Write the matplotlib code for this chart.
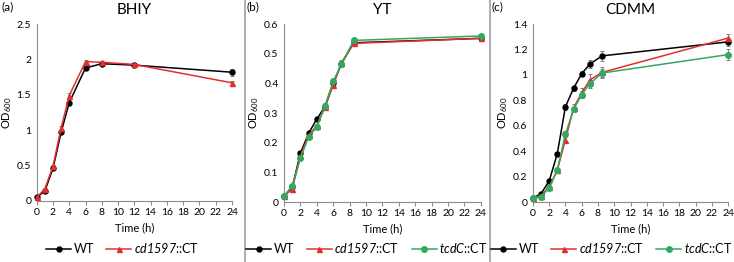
import matplotlib
matplotlib.use('Agg')
import matplotlib.pyplot as plt
from matplotlib.lines import Line2D

plt.rcParams['font.family'] = ['Lato', 'DejaVu Sans']
plt.rcParams['mathtext.fontset'] = 'custom'
plt.rcParams['mathtext.rm'] = 'Lato'
plt.rcParams['mathtext.it'] = 'Lato:italic'
# bf slot used for italic gene names so digits stay italic too
plt.rcParams['mathtext.bf'] = 'Lato:italic'

# panel (a) BHIY
t_a = [0, 1, 2, 3, 4, 6, 8, 12, 24]
wt_a = [0.05, 0.14, 0.46, 0.97, 1.39, 1.88, 1.94, 1.92, 1.82]
wt_a_err = [0.01, 0.01, 0.02, 0.03, 0.03, 0.02, 0.02, 0.02, 0.05]
cd_a = [0.05, 0.17, 0.49, 1.03, 1.49, 1.97, 1.96, 1.93, 1.67]
cd_a_err = [0.01, 0.01, 0.02, 0.03, 0.03, 0.02, 0.02, 0.02, 0.03]

# panel (b) YT
t_b = [0, 1, 2, 3, 4, 5, 6, 7, 8.5, 24]
wt_b = [0.02, 0.05, 0.165, 0.232, 0.28, 0.322, 0.40, 0.466, 0.537, 0.552]
cd_b = [0.02, 0.045, 0.155, 0.225, 0.258, 0.32, 0.395, 0.47, 0.535, 0.552]
tc_b = [0.02, 0.055, 0.148, 0.22, 0.254, 0.325, 0.407, 0.464, 0.545, 0.56]
err_b = [0.003, 0.004, 0.006, 0.006, 0.006, 0.008, 0.008, 0.008, 0.006, 0.006]

# panel (c) CDMM
t_c = [0, 1, 2, 3, 4, 5, 6, 7, 8.5, 24]
wt_c = [0.03, 0.065, 0.165, 0.38, 0.75, 0.895, 1.01, 1.085, 1.15, 1.26]
wt_c_err = [0.005, 0.01, 0.01, 0.015, 0.025, 0.02, 0.02, 0.03, 0.04, 0.03]
cd_c = [0.03, 0.05, 0.12, 0.25, 0.49, 0.74, 0.86, 0.96, 1.02, 1.29]
cd_c_err = [0.005, 0.01, 0.01, 0.015, 0.02, 0.03, 0.04, 0.045, 0.045, 0.03]
tc_c = [0.03, 0.04, 0.11, 0.25, 0.535, 0.73, 0.845, 0.93, 1.015, 1.16]
tc_c_err = [0.005, 0.01, 0.01, 0.015, 0.02, 0.02, 0.03, 0.03, 0.03, 0.045]

BLACK = '#000000'
RED = '#e0302e'
GREEN = '#35a860'
ERRC = '#808080'

fig = plt.figure(figsize=(7.34, 2.62), dpi=100)


def style_axes(ax, ymax, ystep, title):
    ax.set_xlim(0, 24)
    ax.set_ylim(0, ymax)
    ax.set_xticks(range(0, 25, 2))
    yt = [round(i * ystep, 2) for i in range(int(round(ymax / ystep)) + 1)]
    ax.set_yticks(yt)
    ax.set_yticklabels(['%g' % v for v in yt])
    for s in ['top', 'right']:
        ax.spines[s].set_visible(False)
    for s in ['left', 'bottom']:
        ax.spines[s].set_color('#8c8c8c')
        ax.spines[s].set_linewidth(0.8)
    ax.tick_params(axis='x', direction='out', length=3, color='#8c8c8c', labelsize=7.5, pad=2)
    ax.tick_params(axis='y', length=0, labelsize=7.5, pad=4)
    ax.set_xlabel('Time (h)', fontsize=8, labelpad=4)
    ax.set_ylabel('OD$_{600}$', fontsize=8, labelpad=2)
    ax.set_title(title, fontsize=11, pad=7)


def series(ax, t, y, err, color, marker, ms):
    ax.errorbar(t, y, yerr=err, color=color, marker=marker, markersize=ms,
                linewidth=1.1, ecolor=ERRC, elinewidth=0.7, capsize=1.5,
                capthick=0.7, clip_on=False, zorder=3)


ax_a = fig.add_axes([0.050, 0.233, 0.266, 0.675])
series(ax_a, t_a, wt_a, wt_a_err, BLACK, 'o', 3.6)
series(ax_a, t_a, cd_a, cd_a_err, RED, '^', 3.6)
style_axes(ax_a, 2.5, 0.5, 'BHIY')

ax_b = fig.add_axes([0.387, 0.229, 0.268, 0.679])
series(ax_b, t_b, wt_b, err_b, BLACK, 'o', 3.6)
series(ax_b, t_b, cd_b, err_b, RED, '^', 3.6)
series(ax_b, t_b, tc_b, err_b, GREEN, 'o', 4)
style_axes(ax_b, 0.6, 0.1, 'YT')

ax_c = fig.add_axes([0.726, 0.229, 0.266, 0.679])
series(ax_c, t_c, wt_c, wt_c_err, BLACK, 'o', 3.6)
series(ax_c, t_c, cd_c, cd_c_err, RED, '^', 3.6)
series(ax_c, t_c, tc_c, tc_c_err, GREEN, 'o', 4)
style_axes(ax_c, 1.4, 0.2, 'CDMM')

for xl, lab in [(1, '(a)'), (247, '(b)'), (492, '(c)')]:
    fig.text(xl / 734, 0.995, lab, fontsize=8.5, va='top', ha='left')

h_wt = Line2D([], [], color=BLACK, marker='o', markersize=3.6, linewidth=1.1)
h_cd = Line2D([], [], color=RED, marker='^', markersize=3.6, linewidth=1.1)
h_tc = Line2D([], [], color=GREEN, marker='o', markersize=4, linewidth=1.1)
lab_wt = 'WT'
lab_cd = '$\\mathbf{cd1597}$::CT'
lab_tc = '$\\mathbf{tcdC}$::CT'

for x0, hs, ls in [(0.167, [h_wt, h_cd], [lab_wt, lab_cd]),
                   (0.500, [h_wt, h_cd, h_tc], [lab_wt, lab_cd, lab_tc]),
                   (0.833, [h_wt, h_cd, h_tc], [lab_wt, lab_cd, lab_tc])]:
    fig.legend(hs, ls, loc='center', bbox_to_anchor=(x0, 0.053), ncol=len(hs),
               frameon=False, fontsize=9, handlelength=2.0, handletextpad=0.2,
               columnspacing=1.0, borderpad=0)

for xs in [245 / 734, 490 / 734]:
    fig.add_artist(Line2D([xs, xs], [0, 1], color='#a0a0a0', linewidth=1.2,
                          transform=fig.transFigure))

fig.savefig('out.png', dpi=100)
